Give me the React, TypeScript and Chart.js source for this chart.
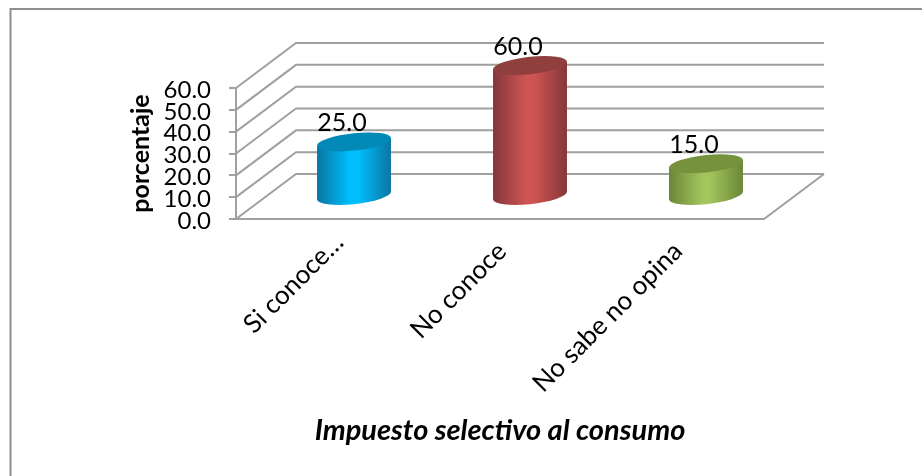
import React, { useEffect, useRef } from "react";
import { Chart, registerables } from "chart.js";

Chart.register(...registerables);

const categories = ["Si conoce…", "No conoce", "No sabe no opina"];
const porcentaje = [25, 60, 15];
const yTickStep = 10;
const yMax = 60;

const capColors = ["#0389b6", "#8f3f3d", "#76923c"];
const edgeColors = ["#0a75a2", "#86363a", "#6b8638"];
const midColors = ["#00bfff", "#ce5553", "#a3c55c"];

const GRID = "#a0a0a0";
const FONT = "Lato, 'Open Sans', sans-serif";
const DEPTH_X = 60;
const DEPTH_Y = -45;

// Back wall, side wall and floor of the 3D box, taken from the live scales.
const boxPlugin = {
  id: "box3d",
  beforeDatasetsDraw(chart: any) {
    const { ctx } = chart;
    const x = chart.scales.x;
    const y = chart.scales.y;
    ctx.save();
    ctx.strokeStyle = GRID;
    ctx.lineWidth = 2;
    for (const t of y.ticks) {
      const py = y.getPixelForValue(t.value);
      ctx.beginPath();
      ctx.moveTo(x.left, py);
      ctx.lineTo(x.left + DEPTH_X, py + DEPTH_Y);
      ctx.lineTo(x.right + DEPTH_X, py + DEPTH_Y);
      ctx.stroke();
    }
    const base = y.getPixelForValue(0);
    ctx.beginPath();
    ctx.moveTo(x.left, base);
    ctx.lineTo(x.right, base);
    ctx.lineTo(x.right + DEPTH_X, base + DEPTH_Y);
    ctx.stroke();
    ctx.restore();
  },
};

function shearedEllipse(
  ctx: any,
  cx: number,
  cy: number,
  rx: number,
  ry: number,
  slope: number,
  from: number,
  to: number,
  ccw: boolean,
) {
  ctx.save();
  ctx.translate(cx, cy);
  ctx.transform(1, slope, 0, 1, 0, 0);
  ctx.ellipse(0, 0, rx, ry, 0, from, to, ccw);
  ctx.restore();
}

// Paints each bar as a cylinder standing in the middle of the box depth.
const cylinderPlugin = {
  id: "cylinders",
  afterDatasetsDraw(chart: any) {
    const { ctx } = chart;
    const meta = chart.getDatasetMeta(0);
    const slope = -0.103;
    const ry = 8.7;
    meta.data.forEach((bar: any, i: number) => {
      const cx = bar.x + DEPTH_X / 2;
      const rx = bar.width / 2;
      const top = bar.y + DEPTH_Y / 2;
      const bottom = bar.base + DEPTH_Y / 2;
      const g = ctx.createLinearGradient(cx - rx, 0, cx + rx, 0);
      g.addColorStop(0, edgeColors[i]);
      g.addColorStop(0.45, midColors[i]);
      g.addColorStop(0.55, midColors[i]);
      g.addColorStop(1, edgeColors[i]);
      ctx.fillStyle = g;
      ctx.beginPath();
      ctx.moveTo(cx - rx, top - slope * rx);
      ctx.lineTo(cx - rx, bottom - slope * rx);
      shearedEllipse(ctx, cx, bottom, rx, ry, slope, Math.PI, 0, true);
      ctx.lineTo(cx + rx, top + slope * rx);
      ctx.closePath();
      ctx.fill();
      ctx.fillStyle = capColors[i];
      ctx.beginPath();
      shearedEllipse(ctx, cx, top, rx, ry, slope, 0, Math.PI * 2, false);
      ctx.fill();

      ctx.fillStyle = "#000";
      ctx.font = `25px ${FONT}`;
      ctx.textAlign = "center";
      ctx.textBaseline = "alphabetic";
      ctx.fillText(porcentaje[i].toFixed(1), cx - 12, top - 11);
    });
  },
};

// Page frame plus small label adjustments the scale options cannot express.
const framePlugin = {
  id: "frame",
  beforeDraw(chart: any) {
    const { ctx, width, height } = chart;
    ctx.save();
    ctx.fillStyle = "#fff";
    ctx.fillRect(0, 0, width, height);
    ctx.strokeStyle = "#8f8f8f";
    ctx.lineWidth = 2;
    ctx.beginPath();
    ctx.moveTo(10.5, height);
    ctx.lineTo(10.5, 9);
    ctx.lineTo(width, 9);
    ctx.stroke();
    ctx.restore();

    // The truncated first category sits further along its slanted line.
    const first = chart.scales.x.getLabelItems()[0];
    if (first && !first.nudged) {
      first.options.translation[0] += 13;
      first.options.translation[1] -= 9;
      first.nudged = true;
    }
    // Value-axis labels sit slightly under their tick marks.
    for (const item of chart.scales.y.getLabelItems()) {
      if (!item.nudged) {
        item.options.translation[1] += 2;
        item.nudged = true;
      }
    }
  },
};

export default function App() {
  const ref = useRef<HTMLCanvasElement>(null);
  useEffect(() => {
    const chart = new Chart(ref.current!, {
      type: "bar",
      data: {
        labels: categories,
        datasets: [
          {
            label: "porcentaje",
            data: porcentaje,
            backgroundColor: "rgba(0,0,0,0)",
            categoryPercentage: 1,
            barPercentage: 0.42,
          },
        ],
      },
      options: {
        responsive: false,
        animation: false,
        layout: { padding: { left: 126, right: 158, top: 88, bottom: 28 } },
        plugins: { legend: { display: false }, tooltip: { enabled: false } },
        scales: {
          x: {
            afterFit: (s: any) => {
              s.height = 229;
            },
            grid: { display: false },
            border: { display: false },
            ticks: {
              color: "#000",
              font: { family: FONT, size: 26 },
              minRotation: 45,
              maxRotation: 45,
              padding: 9,
              labelOffset: 2,
            },
            title: {
              display: true,
              text: "Impuesto selectivo al consumo",
              color: "#000",
              font: { family: FONT, size: 29, weight: "bold", style: "italic" },
              padding: { top: 0, bottom: 0 },
            },
          },
          y: {
            min: 0,
            max: yMax,
            afterFit: (s: any) => {
              s.width = 110;
            },
            grid: { drawOnChartArea: false, color: GRID, lineWidth: 2, tickLength: 7 },
            border: { display: true, color: GRID, width: 2 },
            ticks: {
              autoSkip: false,
              stepSize: yTickStep,
              color: "#000",
              font: { family: FONT, size: 24 },
              padding: 18,
              callback: (v: any) => Number(v).toFixed(1),
            },
            title: {
              display: true,
              text: "porcentaje",
              color: "#000",
              font: { family: FONT, size: 25, weight: "bold" },
              padding: { top: 0, bottom: 0 },
            },
          },
        },
      },
      plugins: [framePlugin, boxPlugin, cylinderPlugin],
    } as any);
    return () => chart.destroy();
  }, []);
  return (
    <div style={{ position: "absolute", left: 0, top: 0, width: 922, height: 476 }}>
      <canvas ref={ref} width={922} height={476} style={{ display: "block" }} />
    </div>
  );
}
